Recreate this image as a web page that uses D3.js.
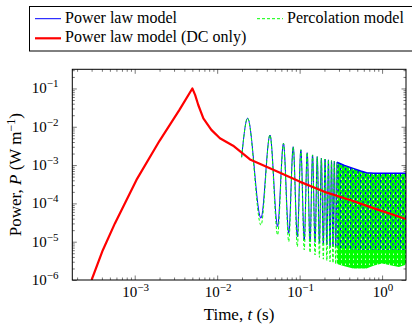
<!DOCTYPE html>
<html>
<head>
<meta charset="utf-8">
<script src="https://cdn.jsdelivr.net/npm/d3@7"></script>
<style>
body { margin: 0; background: #fff; }
text { font-family: "Liberation Serif", serif; fill: #000; }
</style>
</head>
<body>
<div id="chart"></div>
<script>
// DC-only power law curve (red)
var dcT = [3.0e-4, 4.1e-4, 5.75e-4, 1.05e-3, 2.0e-3, 3.5e-3, 5.0e-3, 5.4e-3, 5.9e-3, 6.8e-3, 8.5e-3, 0.0108, 0.0156, 0.025, 0.045, 0.1, 0.2, 0.41, 0.8, 1.95]
var dcP = [1e-6, 6e-6, 3e-5, 4.1e-4, 4.3e-3, 0.028, 0.1, 0.068, 0.037, 0.0166, 8.3e-3, 5.0e-3, 3.2e-3, 1.4e-3, 8e-4, 3.7e-4, 2.0e-4, 1.23e-4, 7.4e-5, 3.9e-5]

// AC oscillations: start, then peak / trough pairs
var oscT = [0.0198, 0.0234, 0.0340, 0.0437, 0.0540, 0.0637, 0.0738, 0.0836, 0.0938, 0.1035, 0.1138, 0.1235, 0.1338, 0.1435, 0.1538, 0.1635, 0.1738, 0.1835, 0.1938, 0.2035, 0.2138, 0.2235, 0.2338, 0.2435, 0.2538, 0.2635, 0.2738, 0.2835]
var powerP = [1.6e-3, 1.67e-2, 4.1e-5, 6.1e-3, 2.5e-5, 3.7e-3, 1.66e-5, 3.0e-3, 1.35e-5, 2.5e-3, 1.1e-5, 2.1e-3, 1.0e-5, 1.84e-3, 9.6e-6, 1.66e-3, 9.1e-6, 1.52e-3, 8.6e-6, 1.44e-3, 8.2e-6, 1.37e-3, 7.8e-6, 1.3e-3, 7.4e-6, 1.25e-3, 7.1e-6, 1.18e-3]
var percP = [1.6e-3, 1.67e-2, 2.7e-5, 6.1e-3, 1.5e-5, 3.7e-3, 1.0e-5, 3.0e-3, 7.4e-6, 2.5e-3, 6.1e-6, 2.1e-3, 5.2e-6, 1.84e-3, 4.5e-6, 1.66e-3, 3.9e-6, 1.52e-3, 3.5e-6, 1.44e-3, 3.2e-6, 1.37e-3, 3.0e-6, 1.3e-3, 2.8e-6, 1.25e-3, 2.6e-6, 1.18e-3]

// dense part: envelopes of the oscillation
var bandT = [0.2835, 0.35, 0.445, 0.55, 0.647, 0.8, 1.0, 1.3, 1.6, 1.95]
var bandUpper = [1.18e-3, 9.8e-4, 8.2e-4, 7e-4, 6.3e-4, 6.1e-4, 6.1e-4, 6.1e-4, 6.1e-4, 6.1e-4]
var powerLower = [7e-6, 6.6e-6, 6.2e-6, 6.1e-6, 6.1e-6, 6.1e-6, 6.1e-6, 6.1e-6, 6.1e-6, 6.1e-6]
var percLower = [2.6e-6, 2.3e-6, 2.0e-6, 2.0e-6, 2.0e-6, 2.4e-6, 2.7e-6, 2.4e-6, 2.2e-6, 2.5e-6]

var xMajor = [1e-3, 1e-2, 1e-1, 1]
var xExp = ["\u22123", "\u22122", "\u22121", "0"]
var yMajor = [1e-6, 1e-5, 1e-4, 1e-3, 1e-2, 1e-1]
var yExp = ["\u22126", "\u22125", "\u22124", "\u22123", "\u22122", "\u22121"]

var svg = d3.select("#chart").append("svg")
  .attr("width", 412)
  .attr("height", 324)

var x = d3.scaleLog().domain([1.75e-4, 1.95]).range([72.3, 406])
var y = d3.scaleLog().domain([1e-6, Math.pow(10, -0.5)]).range([280, 69.3])

var x0 = x.range()[0], x1 = x.range()[1], yb = y.range()[0], yt = y.range()[1]

svg.append("clipPath").attr("id", "plotclip")
  .append("rect")
  .attr("x", x0).attr("y", yt).attr("width", x1 - x0).attr("height", yb - yt)

// speckle patterns for the dense region
var defs = svg.append("defs")
var pat = defs.append("pattern")
  .attr("id", "bluedots")
  .attr("patternUnits", "userSpaceOnUse")
  .attr("width", 5).attr("height", 6)
pat.append("rect").attr("x", 0).attr("y", 0).attr("width", 1.2).attr("height", 2.5).attr("fill", "#0000ff")
pat.append("rect").attr("x", 2.5).attr("y", 3).attr("width", 1.2).attr("height", 2.5).attr("fill", "#0000ff")

var gpat = defs.append("pattern")
  .attr("id", "greenfill")
  .attr("patternUnits", "userSpaceOnUse")
  .attr("width", 4).attr("height", 5)
gpat.append("rect").attr("width", 4).attr("height", 5).attr("fill", "#00ff00")
gpat.append("rect").attr("x", 1).attr("y", 3.5).attr("width", 1).attr("height", 1.5).attr("fill", "#ccffcc")

// minor tick positions
function minors(dom) {
  var out = []
  for (var e = -7; e <= 1; e++) {
    for (var k = 2; k <= 9; k++) {
      var v = k * Math.pow(10, e)
      if (v > dom[0] && v < dom[1]) out.push(v)
    }
  }
  return out
}

var g = svg.append("g")

function addAxis(axis, tr) {
  var a = g.append("g")
    .attr("transform", tr)
    .attr("color", "#555")
    .call(axis)
  a.select(".domain").remove()
  a.selectAll("line").attr("stroke-width", 0.8)
}

addAxis(d3.axisBottom(x).tickValues(minors(x.domain())).tickSize(-2.5).tickFormat(""), "translate(0," + yb + ")")
addAxis(d3.axisBottom(x).tickValues(xMajor).tickSize(-4.5).tickFormat(""), "translate(0," + yb + ")")
addAxis(d3.axisTop(x).tickValues(minors(x.domain())).tickSize(-2.5).tickFormat(""), "translate(0," + yt + ")")
addAxis(d3.axisTop(x).tickValues(xMajor).tickSize(-4.5).tickFormat(""), "translate(0," + yt + ")")
addAxis(d3.axisLeft(y).tickValues(minors(y.domain())).tickSize(-2.5).tickFormat(""), "translate(" + x0 + ",0)")
addAxis(d3.axisLeft(y).tickValues(yMajor).tickSize(-4.5).tickFormat(""), "translate(" + x0 + ",0)")
addAxis(d3.axisRight(y).tickValues(minors(y.domain())).tickSize(-2.5).tickFormat(""), "translate(" + x1 + ",0)")
addAxis(d3.axisRight(y).tickValues(yMajor).tickSize(-4.5).tickFormat(""), "translate(" + x1 + ",0)")

var plot = svg.append("g").attr("clip-path", "url(#plotclip)")

var osc = oscT.map(function(t, i) { return {t: t, a: powerP[i], b: percP[i]} })
var band = bandT.map(function(t, i) { return {t: t, up: bandUpper[i], lo1: powerLower[i], lo2: percLower[i]} })

// dense band
plot.append("path")
  .datum(band)
  .attr("fill", "url(#greenfill)")
  .attr("d", d3.area()
    .x(function(d) { return x(d.t) })
    .y0(function(d) { return y(d.lo2) })
    .y1(function(d) { return y(d.up) }))

plot.append("path")
  .datum(band)
  .attr("fill", "url(#bluedots)")
  .attr("d", d3.area()
    .x(function(d) { return x(d.t) })
    .y0(function(d) { return y(d.lo1) })
    .y1(function(d) { return y(d.up) }))

plot.append("path")
  .datum(band)
  .attr("fill", "none")
  .attr("stroke", "#0000ff")
  .attr("stroke-width", 1.5)
  .attr("d", d3.line()
    .x(function(d) { return x(d.t) })
    .y(function(d) { return y(d.up) }))

// distinct oscillations
plot.append("path")
  .datum(osc)
  .attr("fill", "none")
  .attr("stroke", "#0000ff")
  .attr("stroke-width", 1)
  .attr("d", d3.line().curve(d3.curveMonotoneX)
    .x(function(d) { return x(d.t) })
    .y(function(d) { return y(d.a) }))

plot.append("path")
  .datum(osc)
  .attr("fill", "none")
  .attr("stroke", "#00ff00")
  .attr("stroke-width", 1)
  .attr("stroke-dasharray", "3,2")
  .attr("d", d3.line().curve(d3.curveMonotoneX)
    .x(function(d) { return x(d.t) })
    .y(function(d) { return y(d.b) }))

// DC only
plot.append("path")
  .datum(dcT.map(function(t, i) { return {t: t, p: dcP[i]} }))
  .attr("fill", "none")
  .attr("stroke", "#ff0000")
  .attr("stroke-width", 2.2)
  .attr("stroke-linejoin", "round")
  .attr("d", d3.line()
    .x(function(d) { return x(d.t) })
    .y(function(d) { return y(d.p) }))

// frame
svg.append("rect")
  .attr("x", x0).attr("y", yt)
  .attr("width", x1 - x0).attr("height", yb - yt)
  .attr("fill", "none")
  .attr("stroke", "#000")
  .attr("stroke-width", 1)

// tick labels
function powLabel(sel, exp) {
  sel.append("tspan").text("10")
  sel.append("tspan").attr("dy", -6).attr("font-size", 11).text(exp)
}

xMajor.forEach(function(v, i) {
  svg.append("text")
    .attr("x", x(v) + 1)
    .attr("y", 297)
    .attr("font-size", 15)
    .attr("text-anchor", "middle")
    .call(powLabel, xExp[i])
})

yMajor.forEach(function(v, i) {
  svg.append("text")
    .attr("x", 58.5)
    .attr("y", y(v) + 5)
    .attr("font-size", 15)
    .attr("text-anchor", "end")
    .call(powLabel, yExp[i])
})

// axis titles
var xl = svg.append("text")
  .attr("x", 239)
  .attr("y", 320)
  .attr("font-size", 17)
  .attr("text-anchor", "middle")
xl.append("tspan").text("Time, ")
xl.append("tspan").attr("font-style", "italic").text("t")
xl.append("tspan").text(" (s)")

var yl = svg.append("text")
  .attr("transform", "translate(21," + ((yt + yb) / 2) + ")rotate(-90)")
  .attr("font-size", 17)
  .attr("text-anchor", "middle")
yl.append("tspan").text("Power, ")
yl.append("tspan").attr("font-style", "italic").text("P")
yl.append("tspan").text(" (W m")
yl.append("tspan").attr("dy", -6).attr("font-size", 12).text("\u22121")
yl.append("tspan").attr("dy", 6).text(")")

// legend
var leg = svg.append("g")
leg.append("rect")
  .attr("x", 29.5).attr("y", 6.5)
  .attr("width", 400).attr("height", 44.5)
  .attr("fill", "#fff")
  .attr("stroke", "#000")
  .attr("stroke-width", 1)

var legItems = [
  {name: "Power law model", color: "#0000ff", w: 1, dash: null, lx: 35, ly: 18.7},
  {name: "Percolation model", color: "#00ff00", w: 1, dash: "3,2", lx: 257, ly: 18.7},
  {name: "Power law model (DC only)", color: "#ff0000", w: 2.2, dash: null, lx: 35, ly: 38.3}
]

legItems.forEach(function(d) {
  leg.append("line")
    .attr("x1", d.lx).attr("x2", d.lx + 26)
    .attr("y1", d.ly).attr("y2", d.ly)
    .attr("stroke", d.color)
    .attr("stroke-width", d.w)
    .attr("stroke-dasharray", d.dash)
  leg.append("text")
    .attr("x", d.lx + 30)
    .attr("y", d.ly + 4)
    .attr("font-size", 16)
    .text(d.name)
})
</script>
</body>
</html>
